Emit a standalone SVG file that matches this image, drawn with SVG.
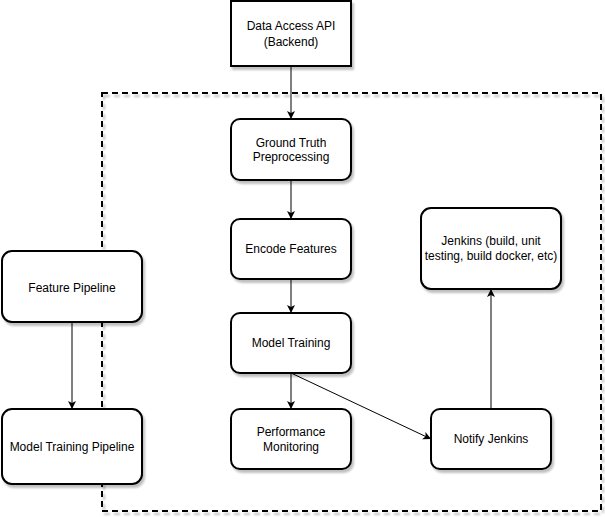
<svg xmlns="http://www.w3.org/2000/svg" width="605" height="517" viewBox="0 0 605 517">
  <defs>
    <filter id="shadow" x="-10%" y="-10%" width="130%" height="130%">
      <feGaussianBlur in="SourceAlpha" stdDeviation="1.2"/>
      <feOffset dx="2" dy="3" result="off"/>
      <feComponentTransfer><feFuncA type="linear" slope="0.25"/></feComponentTransfer>
      <feMerge><feMergeNode/><feMergeNode in="SourceGraphic"/></feMerge>
    </filter>
    <marker id="arrow" viewBox="0 0 10 10" refX="9" refY="5" markerWidth="10" markerHeight="10" markerUnits="userSpaceOnUse" orient="auto">
      <path d="M1,1 L9,5 L1,9 L3,5 Z" fill="#000"/>
    </marker>
  </defs>
  <style>
    .box { fill: #fff; stroke: #000; stroke-width: 2; filter: url(#shadow); }
    .label { font-family: "Liberation Sans", Arial, Helvetica, sans-serif; font-size: 12px; fill: #000; text-anchor: middle; }
    .edge { stroke: #000; stroke-width: 1; fill: none; marker-end: url(#arrow); }
    .frame { fill: none; stroke: #000; stroke-width: 2; stroke-dasharray: 6 4; filter: url(#shadow); }
  </style>
  <rect width="605" height="517" fill="#fff"/>

  <!-- dashed boundary -->
  <rect class="frame" x="102" y="93" width="499" height="418"/>

  <g id="connectors">
    <line class="edge" x1="291" y1="66" x2="291" y2="119"/>
    <line class="edge" x1="291" y1="180" x2="291" y2="219"/>
    <line class="edge" x1="291" y1="279" x2="291" y2="313"/>
    <line class="edge" x1="291" y1="373" x2="291" y2="409"/>
    <line class="edge" x1="291" y1="373" x2="431" y2="439"/>
    <line class="edge" x1="491" y1="409" x2="491" y2="289"/>
    <line class="edge" x1="72" y1="322" x2="72" y2="409"/>
  </g>

  <g id="data-access-api">
    <rect class="box" x="231" y="1" width="120" height="65"/>
    <text class="label" x="291" y="30">Data Access API</text>
    <text class="label" x="291" y="46">(Backend)</text>
  </g>
  <g id="ground-truth">
    <rect class="box" x="231" y="119" width="120" height="61" rx="9"/>
    <text class="label" x="291" y="147">Ground Truth</text>
    <text class="label" x="291" y="161">Preprocessing</text>
  </g>
  <g id="encode-features">
    <rect class="box" x="231" y="219" width="120" height="60" rx="9"/>
    <text class="label" x="291" y="253">Encode Features</text>
  </g>
  <g id="model-training">
    <rect class="box" x="231" y="313" width="120" height="60" rx="9"/>
    <text class="label" x="291" y="347">Model Training</text>
  </g>
  <g id="performance-monitoring">
    <rect class="box" x="231" y="409" width="120" height="60" rx="9"/>
    <text class="label" x="291" y="436">Performance</text>
    <text class="label" x="291" y="451">Monitoring</text>
  </g>
  <g id="notify-jenkins">
    <rect class="box" x="431" y="409" width="120" height="60" rx="9"/>
    <text class="label" x="491" y="443">Notify Jenkins</text>
  </g>
  <g id="jenkins">
    <rect class="box" x="421" y="208" width="140" height="81" rx="10"/>
    <text class="label" x="491" y="245">Jenkins (build, unit</text>
    <text class="label" x="491" y="260">testing, build docker, etc)</text>
  </g>
  <g id="feature-pipeline">
    <rect class="box" x="2" y="251" width="140" height="71" rx="10"/>
    <text class="label" x="72" y="292">Feature Pipeline</text>
  </g>
  <g id="model-training-pipeline">
    <rect class="box" x="2" y="409" width="140" height="75" rx="10"/>
    <text class="label" x="72" y="451">Model Training Pipeline</text>
  </g>
</svg>
